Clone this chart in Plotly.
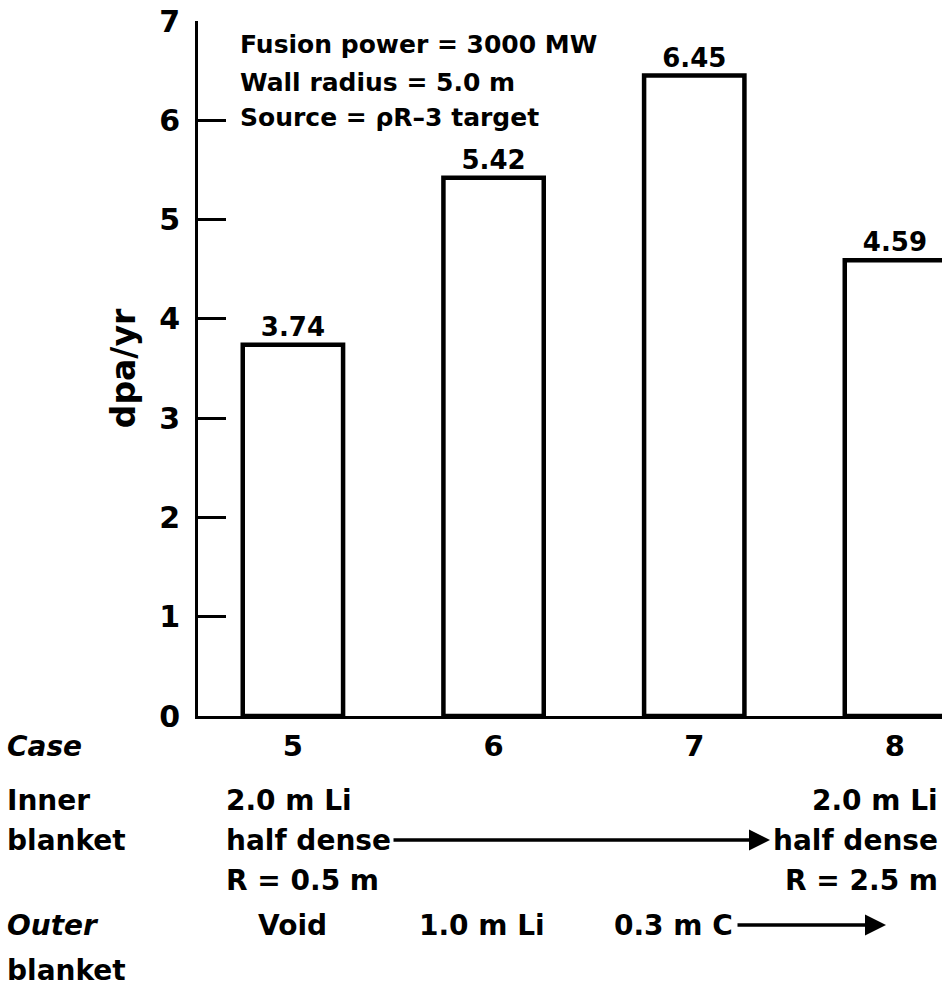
import plotly.graph_objects as go

# ---- data ----
cases = [5, 6, 7, 8]
case_labels = ["5", "6", "7", "8"]
dpa_per_yr = [3.74, 5.42, 6.45, 4.59]
value_labels = ["3.74", "5.42", "6.45", "4.59"]
y_ticks = [0, 1, 2, 3, 4, 5, 6, 7]
info_lines = ["Fusion power = 3000 MW", "Wall radius = 5.0 m", "Source = \u03c1R\u20133 target"]
inner_first = ["2.0 m Li", "half dense", "R = 0.5 m"]
inner_last = ["2.0 m Li", "half dense", "R = 2.5 m"]
outer_labels = ["Void", "1.0 m Li", "0.3 m C"]

FONT = "DejaVu Sans, Liberation Sans, Arial, sans-serif"
W, H = 946, 999
ML, MR, MT, MB = 198, 4, 21, 283
PW = W - ML - MR
PH = H - MT - MB
XR = [4.527, 4.527 + PW / 200.67]


def py(pix):
    """pixel row -> paper y"""
    return (H - MB - pix) / PH


def px(pix):
    """pixel column -> paper x"""
    return (pix - ML) / PW


def dx(pix):
    """pixel column -> data x"""
    return XR[0] + (pix - ML) / (PW / (XR[1] - XR[0]))


def b(s):
    return "<b>" + s + "</b>"


fig = go.Figure()
fig.add_trace(go.Bar(
    x=cases, y=dpa_per_yr, width=0.5,
    marker=dict(color="white", line=dict(color="black", width=4.5)),
    text=[b(t) for t in value_labels], textposition="outside",
    textfont=dict(size=26, color="black", family=FONT),
    cliponaxis=False, showlegend=False,
))

ann = []
BOT = 28
# info box lines
for txt, yy in zip(info_lines, [45, 82, 118]):
    ann.append(dict(xref="paper", yref="paper", x=px(238), y=py(yy), xanchor="left", yanchor="middle",
                    text=b(txt), align="left", showarrow=False,
                    font=dict(size=25, color="black", family=FONT)))

row_y = {"case": 746, "r1": 800, "r2": 840, "r3": 880, "o1": 925, "o2": 970}
left_rows = [("<b><i>Case</i></b>", "case"), (b("Inner"), "r1"), (b("blanket"), "r2"),
             ("<b><i>Outer</i></b>", "o1"), (b("blanket"), "o2")]
for txt, key in left_rows:
    ann.append(dict(xref="paper", yref="paper", x=px(5), y=py(row_y[key]), xanchor="left", yanchor="middle",
                    text=txt, showarrow=False, font=dict(size=BOT, color="black", family=FONT)))

for txt, key in zip(inner_first, ["r1", "r2", "r3"]):
    ann.append(dict(xref="x", yref="paper", x=dx(224), y=py(row_y[key]), xanchor="left", yanchor="middle",
                    text=b(txt), showarrow=False, font=dict(size=BOT, color="black", family=FONT)))
for txt, key in zip(inner_last, ["r1", "r2", "r3"]):
    ann.append(dict(xref="x", yref="paper", x=dx(940), y=py(row_y[key]), xanchor="right", yanchor="middle",
                    text=b(txt), showarrow=False, font=dict(size=BOT, color="black", family=FONT)))

# outer blanket row
ann.append(dict(xref="x", yref="paper", x=cases[0], y=py(row_y["o1"]), xanchor="center", yanchor="middle",
                text=b(outer_labels[0]), showarrow=False, font=dict(size=BOT, color="black", family=FONT)))
ann.append(dict(xref="x", yref="paper", x=dx(482), y=py(row_y["o1"]), xanchor="center", yanchor="middle",
                text=b(outer_labels[1]), showarrow=False, font=dict(size=BOT, color="black", family=FONT)))
ann.append(dict(xref="x", yref="paper", x=dx(612), y=py(row_y["o1"]), xanchor="left", yanchor="middle",
                text=b(outer_labels[2]), showarrow=False, font=dict(size=BOT, color="black", family=FONT)))

# arrows
ann.append(dict(xref="x", yref="paper", x=dx(770), y=py(row_y["r2"]), ax=-(770 - 392), ay=0,
                text="", showarrow=True, arrowhead=2, arrowsize=1.2, arrowwidth=3.5, arrowcolor="black"))
ann.append(dict(xref="x", yref="paper", x=dx(886), y=py(row_y["o1"]), ax=-(886 - 736), ay=0,
                text="", showarrow=True, arrowhead=2, arrowsize=1.2, arrowwidth=3.5, arrowcolor="black"))

fig.update_layout(
    width=W, height=H,
    margin=dict(l=ML, r=MR, t=MT, b=MB, pad=0),
    plot_bgcolor="white", paper_bgcolor="white",
    font=dict(family=FONT, color="black"),
    annotations=ann,
    xaxis=dict(range=XR, tickvals=cases, ticktext=[b(t) for t in case_labels], ticks="",
               showline=True, linecolor="black", linewidth=3, showgrid=False, zeroline=False,
               tickfont=dict(size=29, color="black", family=FONT), ticklabelstandoff=2),
    yaxis=dict(range=[0, 7], tickvals=y_ticks, ticktext=[b(str(v)) for v in y_ticks],
               ticks="inside", ticklen=28, tickwidth=2.5, tickcolor="black",
               showline=True, linecolor="black", linewidth=3, showgrid=False, zeroline=False,
               tickfont=dict(size=30, color="black", family=FONT), ticklabelstandoff=9,
               title=dict(text=b("dpa/yr"), font=dict(size=33, color="black", family=FONT), standoff=14)),
)

fig.write_html("out.html")
